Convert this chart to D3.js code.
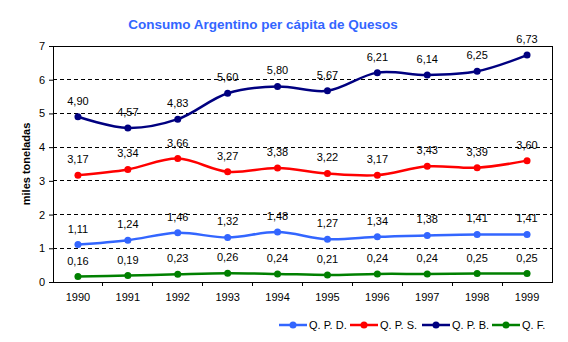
<!DOCTYPE html>
<html>
<head>
<meta charset="utf-8">
<script src="https://cdn.jsdelivr.net/npm/d3@7"></script>
<style>
  body { margin: 0; background: #fff; }
  svg text { font-family: "Liberation Sans", Arial, sans-serif; }
</style>
</head>
<body>
<div id="chart-area"></div>
<script>
let years = ["1990","1991","1992","1993","1994","1995","1996","1997","1998","1999"];
let qpd = [1.11,1.24,1.46,1.32,1.48,1.27,1.34,1.38,1.41,1.41];
let qps = [3.17,3.34,3.66,3.27,3.38,3.22,3.17,3.43,3.39,3.60];
let qpb = [4.90,4.57,4.83,5.60,5.80,5.67,6.21,6.14,6.25,6.73];
let qf  = [0.16,0.19,0.23,0.26,0.24,0.21,0.24,0.24,0.25,0.25];
let seriesNames = ["Q. P. D.", "Q. P. S.", "Q. P. B.", "Q. F."];
let yTicks = [0,1,2,3,4,5,6,7];

let margin = {top: 46, right: 16, bottom: 60, left: 53};
let width = 568 - margin.left - margin.right;
let height = 342 - margin.top - margin.bottom;

let colors = ["#3366ff", "#ff0000", "#000080", "#008000"];
let allSeries = [qpd, qps, qpb, qf];

let svg = d3.select("#chart-area").append("svg")
    .attr("width", 568)
    .attr("height", 342);

// title
svg.append("text")
    .attr("x", 263)
    .attr("y", 29)
    .attr("text-anchor", "middle")
    .style("font-size", "13.5px")
    .style("font-weight", "bold")
    .style("fill", "#3366ff")
    .text("Consumo Argentino per cápita de Quesos");

let g = svg.append("g")
    .attr("transform", "translate(" + margin.left + "," + margin.top + ")");

let x = d3.scaleBand().domain(years).range([0, width]);
let y = d3.scaleLinear().domain([0, 7]).range([height, 0]);

// dashed grid
g.selectAll(".grid")
    .data(yTicks.filter(d => d > 0 && d < 7))
    .enter().append("line")
    .attr("x1", 0).attr("x2", width)
    .attr("y1", d => y(d)).attr("y2", d => y(d))
    .attr("stroke", "#000")
    .attr("stroke-dasharray", "4,3")
    .attr("shape-rendering", "crispEdges");

// plot border
g.append("rect")
    .attr("width", width).attr("height", height)
    .attr("fill", "none").attr("stroke", "#000")
    .attr("shape-rendering", "crispEdges");

let yAxis = d3.axisLeft(y).tickValues(yTicks).tickFormat(d3.format("d")).tickSize(4).tickPadding(4);
g.append("g").call(yAxis)
    .call(a => a.select(".domain").remove())
    .selectAll("text").style("font-size", "11px").attr("fill", "#000");

let xAxisG = g.append("g").attr("transform", "translate(0," + height + ")");
xAxisG.call(d3.axisBottom(x).tickSize(0).tickPadding(11))
    .call(a => a.select(".domain").remove())
    .selectAll("text").style("font-size", "11px").attr("fill", "#000");
// ticks at category boundaries
xAxisG.selectAll(".bnd")
    .data(years.slice(1))
    .enter().append("line")
    .attr("x1", d => x(d)).attr("x2", d => x(d))
    .attr("y1", 0).attr("y2", 4)
    .attr("stroke", "#000")
    .attr("shape-rendering", "crispEdges");

// y label
svg.append("text")
    .attr("transform", "translate(30," + (margin.top + height / 2) + ") rotate(-90)")
    .attr("text-anchor", "middle")
    .style("font-size", "11px")
    .style("font-weight", "bold")
    .text("miles toneladas");

let line = d3.line()
    .x((d, i) => x(years[i]) + x.bandwidth() / 2)
    .y(d => y(d))
    .curve(d3.curveCatmullRom);

let fmt = d => d3.format(".2f")(d).replace(".", ",");

allSeries.forEach(function(vals, s) {
    g.append("path")
        .datum(vals)
        .attr("d", line)
        .attr("fill", "none")
        .attr("stroke", colors[s])
        .attr("stroke-width", 2.5);

    g.selectAll(".dot" + s)
        .data(vals)
        .enter().append("circle")
        .attr("cx", (d, i) => x(years[i]) + x.bandwidth() / 2)
        .attr("cy", d => y(d))
        .attr("r", 3.5)
        .attr("fill", colors[s]);

    g.selectAll(".lbl" + s)
        .data(vals)
        .enter().append("text")
        .attr("x", (d, i) => x(years[i]) + x.bandwidth() / 2)
        .attr("y", d => y(d) - 12)
        .attr("text-anchor", "middle")
        .style("font-size", "11px")
        .text(d => fmt(d));
});

// legend
let legendX = [279, 350, 422, 492];
let legend = svg.selectAll("g.legend")
    .data(seriesNames)
    .enter().append("g")
    .attr("class", "legend")
    .attr("transform", (d, i) => "translate(" + legendX[i] + ",325)");

legend.append("line")
    .attr("x1", 0).attr("x2", 28)
    .attr("stroke", (d, i) => colors[i])
    .attr("stroke-width", 2.5);
legend.append("circle")
    .attr("cx", 14).attr("r", 3.5)
    .attr("fill", (d, i) => colors[i]);
legend.append("text")
    .attr("x", 30)
    .attr("y", 4)
    .style("font-size", "11px")
    .text(d => d);
</script>
</body>
</html>
